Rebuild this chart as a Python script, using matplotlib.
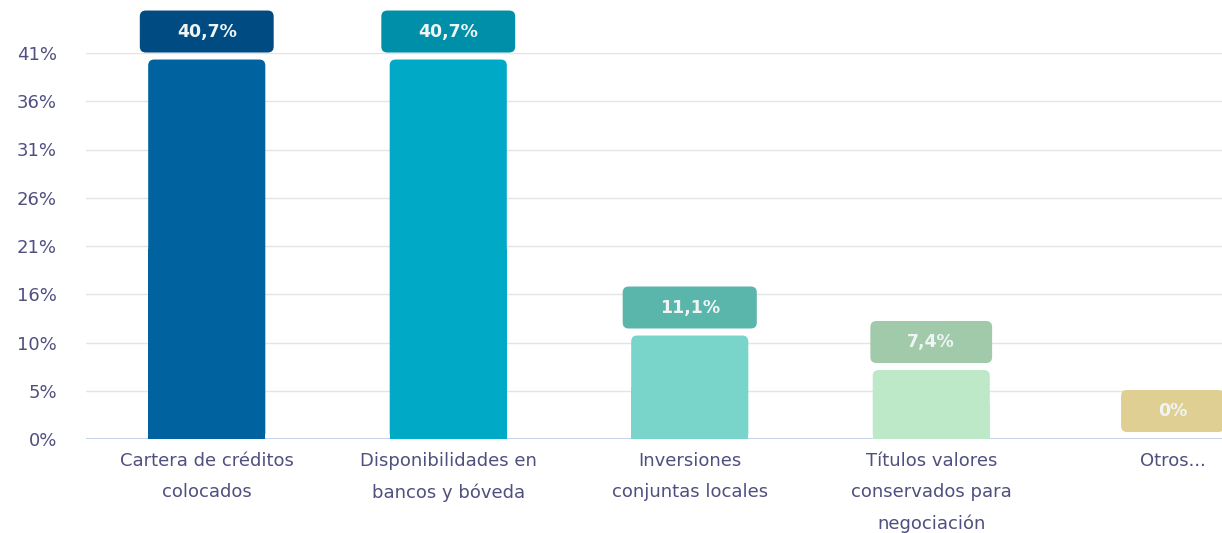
import matplotlib
matplotlib.use("Agg")
import matplotlib.pyplot as plt
from matplotlib.patches import FancyBboxPatch, Rectangle
from matplotlib.transforms import IdentityTransform

plt.rcParams["font.family"] = ["DejaVu Sans"]

categories = [
    "Cartera de créditos\ncolocados",
    "Disponibilidades en\nbancos y bóveda",
    "Inversiones\nconjuntas locales",
    "Títulos valores\nconservados para\nnegociación",
    "Otros...",
]
values = [40.7, 40.7, 11.1, 7.4, 0.0]
value_labels = ["40,7%", "40,7%", "11,1%", "7,4%", "0%"]
bar_colors = ["#00639f", "#00a9c6", "#79d5ca", "#bde9c9", "#f0e4b0"]
tag_colors = ["#004b82", "#008fa8", "#5ab5aa", "#a0caa9", "#dfcf92"]

y_max = 41.4
y_ticks = [y_max * i / 8 for i in range(9)]
y_tick_labels = ["0%", "5%", "10%", "16%", "21%", "26%", "31%", "36%", "41%"]

text_color = "#4f4f80"

W, H = 1222, 533
fig = plt.figure(figsize=(W / 100, H / 100), dpi=100)
ax = fig.add_axes([86 / W, (H - 439) / H, 1207.5 / W, (439 - 53) / H])

x = list(range(len(categories)))
ax.set_xlim(-0.5, len(categories) - 0.5)
ax.set_ylim(0, y_max)

# plain bars give the geometry, rounded patches draw them
bars = ax.bar(x, values, width=0.485, color="none")
px_x = 1207.5 / len(categories)
px_y = 386 / y_max
aspect = px_x / px_y
r = 6 / px_x
for b, c in zip(bars, bar_colors):
    h = b.get_height()
    if h <= 0:
        continue
    ax.add_patch(FancyBboxPatch((b.get_x(), 0), b.get_width(), h,
                                boxstyle=f"round,pad=0,rounding_size={r}",
                                mutation_aspect=aspect, fc=c, ec="none", zorder=3))
    ax.add_patch(Rectangle((b.get_x(), 0), b.get_width(), h / 2,
                           fc=c, ec="none", zorder=3))

ax.set_yticks(y_ticks)
ax.set_yticklabels(y_tick_labels)
ax.set_xticks(x)
ax.set_xticklabels(categories, linespacing=1.95)
ax.tick_params(axis="both", length=0, colors=text_color, labelsize=13)
ax.tick_params(axis="y", pad=21)
ax.tick_params(axis="x", pad=9)

ax.grid(axis="y", color="#e4e4e4", linewidth=1)
ax.set_axisbelow(True)
for s in ax.spines.values():
    s.set_visible(False)
ax.axhline(0, color="#c7d4ec", linewidth=1.5, zorder=2)

# value tags above the bars
texts = []
for xi, v, lab in zip(x, values, value_labels):
    t = ax.annotate(lab, (xi, v), xytext=(0, 28 * 0.72), textcoords="offset points",
                    ha="center", va="center", fontsize=12.5, fontweight="bold",
                    color="#eef5f4", zorder=6, annotation_clip=False)
    texts.append(t)

fig.canvas.draw()
renderer = fig.canvas.get_renderer()
for t, c in zip(texts, tag_colors):
    bb = t.get_window_extent(renderer)
    cx, cy = (bb.x0 + bb.x1) / 2, (bb.y0 + bb.y1) / 2
    w = bb.width + 74
    h = 42
    ax.add_patch(FancyBboxPatch((cx - w / 2, cy - h / 2), w, h,
                                boxstyle="round,pad=0,rounding_size=6",
                                fc=c, ec="none", transform=IdentityTransform(),
                                clip_on=False, zorder=5))

fig.savefig("out.png", dpi=100)
